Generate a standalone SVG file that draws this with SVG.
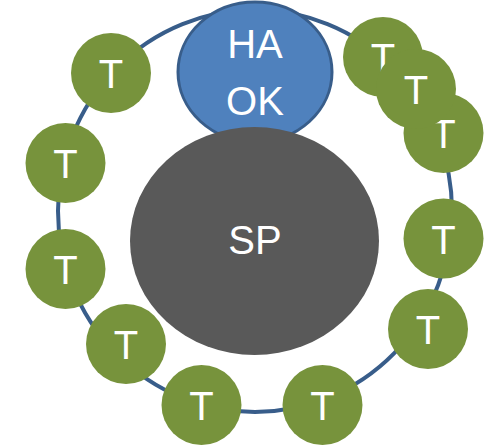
<svg xmlns="http://www.w3.org/2000/svg" width="495" height="446" viewBox="0 0 495 446">
  <style>
    .ring { fill: none; stroke: #385D8A; stroke-width: 4; }
    .t circle { fill: #77933C; }
    .lbl { fill: #FFFFFF; font-family: "Liberation Sans", "DejaVu Sans", sans-serif; font-size: 40px; text-anchor: middle; }
  </style>
  <g id="connectors">
    <ellipse class="ring" cx="255" cy="211" rx="197" ry="201"/>
  </g>
  <g id="node-haok">
    <ellipse cx="255" cy="72" rx="77" ry="70" fill="#4F81BD" stroke="#385D8A" stroke-width="3"/>
    <text class="lbl" x="255" y="58">HA</text>
    <text class="lbl" x="255" y="115">OK</text>
  </g>
  <g id="node-sp">
    <ellipse cx="254.5" cy="241" rx="124.5" ry="114" fill="#595959"/>
    <text class="lbl" x="255" y="254">SP</text>
  </g>
  <g id="node-t1" class="t"><circle cx="111" cy="73" r="40"/><text class="lbl" x="111" y="88">T</text></g>
  <g id="node-t2" class="t"><circle cx="65.5" cy="163" r="40"/><text class="lbl" x="65.5" y="178">T</text></g>
  <g id="node-t3" class="t"><circle cx="65.5" cy="269" r="40"/><text class="lbl" x="65.5" y="284">T</text></g>
  <g id="node-t4" class="t"><circle cx="126" cy="344" r="40"/><text class="lbl" x="126" y="359">T</text></g>
  <g id="node-t5" class="t"><circle cx="201.5" cy="405" r="40"/><text class="lbl" x="201.5" y="420">T</text></g>
  <g id="node-t6" class="t"><circle cx="322.5" cy="405" r="40"/><text class="lbl" x="322.5" y="420">T</text></g>
  <g id="node-t7" class="t"><circle cx="428" cy="329" r="40"/><text class="lbl" x="428" y="344">T</text></g>
  <g id="node-t8" class="t"><circle cx="443.5" cy="238.5" r="40"/><text class="lbl" x="443.5" y="253.5">T</text></g>
  <g id="node-t9" class="t"><circle cx="383" cy="57" r="40"/><text class="lbl" x="383" y="72">T</text></g>
  <g id="node-t11" class="t"><circle cx="443.5" cy="133" r="40"/><text class="lbl" x="443.5" y="148">T</text></g>
  <g id="node-t10" class="t"><circle cx="416" cy="89" r="40"/><text class="lbl" x="416" y="104">T</text></g>
</svg>
